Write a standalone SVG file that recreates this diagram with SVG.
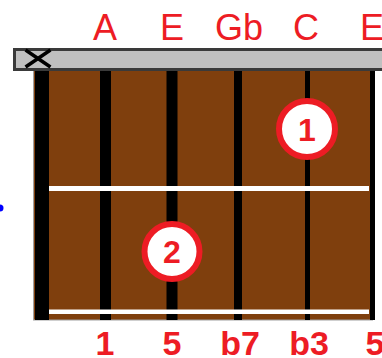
<svg xmlns="http://www.w3.org/2000/svg" width="382" height="358" viewBox="0 0 382 358">
<style>
.lbl{font-family:"Liberation Sans",Arial,sans-serif;font-size:36px;fill:#ED1C24;text-anchor:middle}
.int{font-family:"Liberation Sans",Arial,sans-serif;font-size:34px;font-weight:bold;fill:#ED1C24;text-anchor:middle}
.str{fill:#000}
.fret{fill:#FFFFFF}
.dot circle{fill:#FFFFFF;stroke:#ED1C24;stroke-width:6}
.dot text{font-family:"Liberation Sans",Arial,sans-serif;font-size:32px;font-weight:bold;fill:#ED1C24;text-anchor:middle}
</style>
<rect width="382" height="358" fill="#FFFFFF"/>
<g id="fretboard">
<rect x="33.5" y="70" width="339" height="250" fill="#7F3F0D" stroke="#A0A0A0" stroke-width="1"/>
</g>
<g id="strings">
<rect class="str" x="35" y="66" width="14" height="254"/>
<rect class="str" x="100" y="66" width="11" height="254"/>
<rect class="str" x="166.5" y="66" width="11" height="254"/>
<rect class="str" x="234" y="66" width="8" height="254"/>
<rect class="str" x="305" y="66" width="5" height="254"/>
<rect class="str" x="370" y="66" width="5" height="254"/>
</g>
<g id="frets">
<rect class="fret" x="49" y="186" width="320" height="5"/>
<rect class="fret" x="49" y="309.5" width="320" height="4.5"/>
</g>
<g id="nut">
<rect x="14.5" y="49.5" width="380" height="20" fill="#C0C0C0" stroke="#3A3A3A" stroke-width="3"/>
<g stroke="#000" stroke-width="3.5" stroke-linecap="square">
<line x1="27" y1="51" x2="49" y2="66"/>
<line x1="27" y1="66" x2="49" y2="51"/>
</g>
</g>
<g id="notes">
<text class="lbl" x="105" y="40">A</text>
<text class="lbl" x="172" y="40">E</text>
<text class="lbl" x="239" y="40">Gb</text>
<text class="lbl" x="306" y="40">C</text>
<text class="lbl" x="372" y="40">E</text>
</g>
<g id="intervals">
<text class="int" x="105" y="355">1</text>
<text class="int" x="172" y="355">5</text>
<text class="int" x="240" y="355">b7</text>
<text class="int" x="309" y="355">b3</text>
<text class="int" x="375" y="355">5</text>
</g>
<g id="finger1" class="dot">
<circle cx="307" cy="129" r="28"/>
<text x="307" y="141">1</text>
</g>
<g id="finger2" class="dot">
<circle cx="172" cy="251.5" r="27.5"/>
<text x="172" y="263">2</text>
</g>
<g id="marker">
<circle cx="0" cy="208" r="3.5" fill="#0000FF"/>
</g>
</svg>
